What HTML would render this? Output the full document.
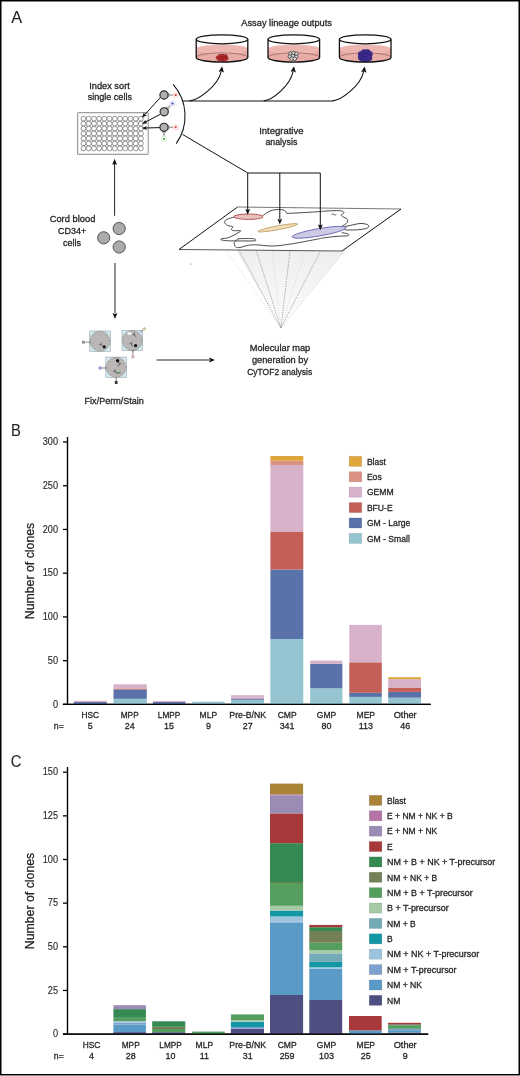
<!DOCTYPE html><html><head><meta charset="utf-8"><title>Figure</title><style>
html,body{margin:0;padding:0;background:#fff;width:520px;height:1076px;overflow:hidden;}
svg{display:block;position:absolute;left:0;top:0;will-change:transform;}
text{font-family:"Liberation Sans", sans-serif;stroke:#231f20;stroke-width:0.3px;}
</style></head><body>
<svg width="520" height="1076" viewBox="0 0 520 1076">
<rect x="0" y="0" width="520" height="1076" fill="#fff"/>
<text transform="translate(11.3 23.1) scale(0.97 1)" font-size="16.8" text-anchor="start" fill="#231f20" style="stroke-width:0.1px">A</text>
<text x="241.3" y="26.2" font-size="9.8" text-anchor="start" fill="#231f20" textLength="90.6" lengthAdjust="spacingAndGlyphs">Assay lineage outputs</text>
<g>
<path d="M196.2,49 L196.2,57.5 A25.8,4.6 0 0 0 247.8,57.5 L247.8,49 A25.8,4.4 0 0 0 196.2,49 Z" fill="#e8aba6"/>
<ellipse cx="222" cy="49" rx="25.400000000000002" ry="4.1" fill="#ecb5b0" stroke="#f0c4c0" stroke-width="0.6"/>
<path d="M196.2,57.5 A25.8,4.6 0 0 1 247.8,57.5" fill="none" stroke="#5a3030" stroke-width="0.6" opacity="0.75"/>
<circle cx="217.8" cy="57.6" r="1.7" fill="#cf3232" stroke="#6a1212" stroke-width="0.6"/><circle cx="220" cy="56.0" r="1.7" fill="#cf3232" stroke="#6a1212" stroke-width="0.6"/><circle cx="222.8" cy="55.800000000000004" r="1.7" fill="#cf3232" stroke="#6a1212" stroke-width="0.6"/><circle cx="225.5" cy="56.2" r="1.7" fill="#cf3232" stroke="#6a1212" stroke-width="0.6"/><circle cx="226.4" cy="58.2" r="1.7" fill="#cf3232" stroke="#6a1212" stroke-width="0.6"/><circle cx="220.8" cy="58.2" r="1.7" fill="#cf3232" stroke="#6a1212" stroke-width="0.6"/><circle cx="223.8" cy="58.4" r="1.7" fill="#cf3232" stroke="#6a1212" stroke-width="0.6"/><circle cx="219.4" cy="59.6" r="1.7" fill="#cf3232" stroke="#6a1212" stroke-width="0.6"/><circle cx="222.4" cy="60.0" r="1.7" fill="#cf3232" stroke="#6a1212" stroke-width="0.6"/><circle cx="224.8" cy="59.800000000000004" r="1.7" fill="#cf3232" stroke="#6a1212" stroke-width="0.6"/>
<path d="M196.2,39.3 L196.2,57.5 A25.8,4.6 0 0 0 247.8,57.5 L247.8,39.3" fill="none" stroke="#111" stroke-width="1.3"/>
<ellipse cx="222" cy="39.3" rx="25.8" ry="4.5" fill="#fff" stroke="#111" stroke-width="1.3"/>
</g>
<g>
<path d="M268.0,49 L268.0,57.5 A25.8,4.6 0 0 0 319.6,57.5 L319.6,49 A25.8,4.4 0 0 0 268.0,49 Z" fill="#e8aba6"/>
<ellipse cx="293.8" cy="49" rx="25.400000000000002" ry="4.1" fill="#ecb5b0" stroke="#f0c4c0" stroke-width="0.6"/>
<path d="M268.0,57.5 A25.8,4.6 0 0 1 319.6,57.5" fill="none" stroke="#5a3030" stroke-width="0.6" opacity="0.75"/>
<circle cx="290.5" cy="53.6" r="1.8" fill="#dedede" stroke="#333" stroke-width="0.75"/><circle cx="293.5" cy="53.0" r="1.8" fill="#dedede" stroke="#333" stroke-width="0.75"/><circle cx="296.5" cy="53.800000000000004" r="1.8" fill="#dedede" stroke="#333" stroke-width="0.75"/><circle cx="289.9" cy="56.6" r="1.8" fill="#dedede" stroke="#333" stroke-width="0.75"/><circle cx="292.9" cy="56.0" r="1.8" fill="#dedede" stroke="#333" stroke-width="0.75"/><circle cx="296.1" cy="56.800000000000004" r="1.8" fill="#dedede" stroke="#333" stroke-width="0.75"/><circle cx="291.7" cy="58.6" r="1.8" fill="#dedede" stroke="#333" stroke-width="0.75"/><circle cx="294.7" cy="58.800000000000004" r="1.8" fill="#dedede" stroke="#333" stroke-width="0.75"/>
<path d="M268.0,39.3 L268.0,57.5 A25.8,4.6 0 0 0 319.6,57.5 L319.6,39.3" fill="none" stroke="#111" stroke-width="1.3"/>
<ellipse cx="293.8" cy="39.3" rx="25.8" ry="4.5" fill="#fff" stroke="#111" stroke-width="1.3"/>
</g>
<g>
<path d="M339.4,49 L339.4,57.5 A25.8,4.6 0 0 0 391.0,57.5 L391.0,49 A25.8,4.4 0 0 0 339.4,49 Z" fill="#e8aba6"/>
<ellipse cx="365.2" cy="49" rx="25.400000000000002" ry="4.1" fill="#ecb5b0" stroke="#f0c4c0" stroke-width="0.6"/>
<path d="M339.4,57.5 A25.8,4.6 0 0 1 391.0,57.5" fill="none" stroke="#5a3030" stroke-width="0.6" opacity="0.75"/>
<circle cx="361" cy="54.2" r="2.8" fill="#3d2c8e" stroke="#2d1d78" stroke-width="0.6"/><circle cx="364" cy="52.4" r="2.8" fill="#3d2c8e" stroke="#2d1d78" stroke-width="0.6"/><circle cx="367.4" cy="52.2" r="2.8" fill="#3d2c8e" stroke="#2d1d78" stroke-width="0.6"/><circle cx="369.6" cy="54.0" r="2.8" fill="#3d2c8e" stroke="#2d1d78" stroke-width="0.6"/><circle cx="361" cy="57.6" r="2.8" fill="#3d2c8e" stroke="#2d1d78" stroke-width="0.6"/><circle cx="364.4" cy="55.800000000000004" r="2.8" fill="#3d2c8e" stroke="#2d1d78" stroke-width="0.6"/><circle cx="367.6" cy="56.2" r="2.8" fill="#3d2c8e" stroke="#2d1d78" stroke-width="0.6"/><circle cx="363.4" cy="59.0" r="2.8" fill="#3d2c8e" stroke="#2d1d78" stroke-width="0.6"/><circle cx="366.4" cy="59.2" r="2.8" fill="#3d2c8e" stroke="#2d1d78" stroke-width="0.6"/><circle cx="369.2" cy="58.0" r="2.8" fill="#3d2c8e" stroke="#2d1d78" stroke-width="0.6"/>
<path d="M339.4,39.3 L339.4,57.5 A25.8,4.6 0 0 0 391.0,57.5 L391.0,39.3" fill="none" stroke="#111" stroke-width="1.3"/>
<ellipse cx="365.2" cy="39.3" rx="25.8" ry="4.5" fill="#fff" stroke="#111" stroke-width="1.3"/>
</g>
<path d="M183,101 L333,101" fill="none" stroke="#111" stroke-width="1.0"/>
<g fill="none" stroke="#111" stroke-width="1.1">
<path d="M189.5,100.9 C198.0,100.4 218.1,86 221.2,71.5"/>
<path d="M263.7,100.9 C272.2,100.4 290.0,86 293.1,71.5"/>
<path d="M332.5,100.9 C341.0,100.4 360.6,86 363.70000000000005,71.5"/>
</g>
<path d="M222.10,66.30 L223.97,72.42 L221.42,71.15 L218.62,71.67 Z" fill="#111"/>
<path d="M294.00,66.30 L295.87,72.42 L293.32,71.15 L290.52,71.67 Z" fill="#111"/>
<path d="M364.60,66.60 L366.47,72.72 L363.92,71.45 L361.12,71.97 Z" fill="#111"/>
<text x="89.2" y="88.6" font-size="9.7" text-anchor="start" fill="#231f20" textLength="40.6" lengthAdjust="spacingAndGlyphs">Index sort</text>
<text x="87.8" y="100.4" font-size="9.7" text-anchor="start" fill="#231f20" textLength="44.1" lengthAdjust="spacingAndGlyphs">single cells</text>
<rect x="77.5" y="112.6" width="70.8" height="41.8" rx="1" fill="#fff" stroke="#a0a0a0" stroke-width="1.1"/>
<rect x="78.7" y="113.7" width="68.4" height="39.6" fill="none" stroke="#e2e2e2" stroke-width="0.8"/>
<g fill="#fff" stroke="#505050" stroke-width="0.6"><circle cx="83.50" cy="118.70" r="2.45"/><circle cx="88.72" cy="118.70" r="2.45"/><circle cx="93.94" cy="118.70" r="2.45"/><circle cx="99.16" cy="118.70" r="2.45"/><circle cx="104.38" cy="118.70" r="2.45"/><circle cx="109.60" cy="118.70" r="2.45"/><circle cx="114.82" cy="118.70" r="2.45"/><circle cx="120.04" cy="118.70" r="2.45"/><circle cx="125.26" cy="118.70" r="2.45"/><circle cx="130.48" cy="118.70" r="2.45"/><circle cx="135.70" cy="118.70" r="2.45"/><circle cx="140.92" cy="118.70" r="2.45"/><circle cx="83.50" cy="123.65" r="2.45"/><circle cx="88.72" cy="123.65" r="2.45"/><circle cx="93.94" cy="123.65" r="2.45"/><circle cx="99.16" cy="123.65" r="2.45"/><circle cx="104.38" cy="123.65" r="2.45"/><circle cx="109.60" cy="123.65" r="2.45"/><circle cx="114.82" cy="123.65" r="2.45"/><circle cx="120.04" cy="123.65" r="2.45"/><circle cx="125.26" cy="123.65" r="2.45"/><circle cx="130.48" cy="123.65" r="2.45"/><circle cx="135.70" cy="123.65" r="2.45"/><circle cx="140.92" cy="123.65" r="2.45"/><circle cx="83.50" cy="128.60" r="2.45"/><circle cx="88.72" cy="128.60" r="2.45"/><circle cx="93.94" cy="128.60" r="2.45"/><circle cx="99.16" cy="128.60" r="2.45"/><circle cx="104.38" cy="128.60" r="2.45"/><circle cx="109.60" cy="128.60" r="2.45"/><circle cx="114.82" cy="128.60" r="2.45"/><circle cx="120.04" cy="128.60" r="2.45"/><circle cx="125.26" cy="128.60" r="2.45"/><circle cx="130.48" cy="128.60" r="2.45"/><circle cx="135.70" cy="128.60" r="2.45"/><circle cx="140.92" cy="128.60" r="2.45"/><circle cx="83.50" cy="133.55" r="2.45"/><circle cx="88.72" cy="133.55" r="2.45"/><circle cx="93.94" cy="133.55" r="2.45"/><circle cx="99.16" cy="133.55" r="2.45"/><circle cx="104.38" cy="133.55" r="2.45"/><circle cx="109.60" cy="133.55" r="2.45"/><circle cx="114.82" cy="133.55" r="2.45"/><circle cx="120.04" cy="133.55" r="2.45"/><circle cx="125.26" cy="133.55" r="2.45"/><circle cx="130.48" cy="133.55" r="2.45"/><circle cx="135.70" cy="133.55" r="2.45"/><circle cx="140.92" cy="133.55" r="2.45"/><circle cx="83.50" cy="138.50" r="2.45"/><circle cx="88.72" cy="138.50" r="2.45"/><circle cx="93.94" cy="138.50" r="2.45"/><circle cx="99.16" cy="138.50" r="2.45"/><circle cx="104.38" cy="138.50" r="2.45"/><circle cx="109.60" cy="138.50" r="2.45"/><circle cx="114.82" cy="138.50" r="2.45"/><circle cx="120.04" cy="138.50" r="2.45"/><circle cx="125.26" cy="138.50" r="2.45"/><circle cx="130.48" cy="138.50" r="2.45"/><circle cx="135.70" cy="138.50" r="2.45"/><circle cx="140.92" cy="138.50" r="2.45"/><circle cx="83.50" cy="143.45" r="2.45"/><circle cx="88.72" cy="143.45" r="2.45"/><circle cx="93.94" cy="143.45" r="2.45"/><circle cx="99.16" cy="143.45" r="2.45"/><circle cx="104.38" cy="143.45" r="2.45"/><circle cx="109.60" cy="143.45" r="2.45"/><circle cx="114.82" cy="143.45" r="2.45"/><circle cx="120.04" cy="143.45" r="2.45"/><circle cx="125.26" cy="143.45" r="2.45"/><circle cx="130.48" cy="143.45" r="2.45"/><circle cx="135.70" cy="143.45" r="2.45"/><circle cx="140.92" cy="143.45" r="2.45"/><circle cx="83.50" cy="148.40" r="2.45"/><circle cx="88.72" cy="148.40" r="2.45"/><circle cx="93.94" cy="148.40" r="2.45"/><circle cx="99.16" cy="148.40" r="2.45"/><circle cx="104.38" cy="148.40" r="2.45"/><circle cx="109.60" cy="148.40" r="2.45"/><circle cx="114.82" cy="148.40" r="2.45"/><circle cx="120.04" cy="148.40" r="2.45"/><circle cx="125.26" cy="148.40" r="2.45"/><circle cx="130.48" cy="148.40" r="2.45"/><circle cx="135.70" cy="148.40" r="2.45"/><circle cx="140.92" cy="148.40" r="2.45"/></g>
<path d="M173.1,84.4 A47.7,47.7 0 0 1 176.2,143.6" fill="none" stroke="#111" stroke-width="1.05"/>
<g fill="none" stroke="#111" stroke-width="1.0">
<path d="M160.6,97.2 L145.2,114.2"/>
<path d="M160.4,114.2 L145.8,121.9"/>
<path d="M160.2,127.6 L146,128.0"/>
</g>
<path d="M141.90,117.70 L143.93,112.53 L144.78,114.50 L146.83,115.14 Z" fill="#111"/>
<path d="M142.00,123.90 L145.68,119.74 L145.80,121.88 L147.51,123.18 Z" fill="#111"/>
<path d="M141.60,128.10 L146.80,126.15 L145.90,128.10 L146.80,130.05 Z" fill="#111"/>
<path d="M168.00,97.20 L170.80,95.00 L168.00,92.80" fill="#bdbdbd" stroke="#a0a0a0" stroke-width="0.7" stroke-linejoin="round"/>
<path d="M170.80,95.00 L173.10,95.00" stroke="#9a9a9a" stroke-width="1.3" fill="none"/>
<circle cx="175.70" cy="95.00" r="2.7" fill="#fff3f3" stroke="#f2b4b4" stroke-width="0.45"/><circle cx="175.70" cy="95.00" r="1.05" fill="#e0302a"/>
<path d="M168.58,110.53 L169.01,106.99 L165.47,107.42" fill="#bdbdbd" stroke="#a0a0a0" stroke-width="0.7" stroke-linejoin="round"/>
<path d="M169.01,106.99 L170.63,105.37" stroke="#9a9a9a" stroke-width="1.3" fill="none"/>
<circle cx="172.47" cy="103.53" r="2.7" fill="#f3f3ff" stroke="#bdbdf0" stroke-width="0.45"/><circle cx="172.47" cy="103.53" r="1.05" fill="#2a2aa8"/>
<path d="M168.00,129.50 L170.80,127.30 L168.00,125.10" fill="#bdbdbd" stroke="#a0a0a0" stroke-width="0.7" stroke-linejoin="round"/>
<path d="M170.80,127.30 L173.10,127.30" stroke="#9a9a9a" stroke-width="1.3" fill="none"/>
<circle cx="175.70" cy="127.30" r="2.7" fill="#fff3f3" stroke="#f2b4b4" stroke-width="0.45"/><circle cx="175.70" cy="127.30" r="1.05" fill="#e0302a"/>
<path d="M161.80,131.30 L164.00,134.10 L166.20,131.30" fill="#bdbdbd" stroke="#a0a0a0" stroke-width="0.7" stroke-linejoin="round"/>
<path d="M164.00,134.10 L164.00,136.40" stroke="#9a9a9a" stroke-width="1.3" fill="none"/>
<circle cx="164.00" cy="139.00" r="2.7" fill="#f3fbf3" stroke="#c0e4c0" stroke-width="0.45"/><circle cx="164.00" cy="139.00" r="1.05" fill="#3aa040"/>
<circle cx="164" cy="95" r="4.1" fill="#b1afaf" stroke="#222" stroke-width="1.1"/>
<circle cx="164.2" cy="111.8" r="4.1" fill="#b1afaf" stroke="#222" stroke-width="1.1"/>
<circle cx="164" cy="127.3" r="4.1" fill="#b1afaf" stroke="#222" stroke-width="1.1"/>
<text x="259.2" y="133.8" font-size="9.7" text-anchor="start" fill="#231f20" textLength="44.3" lengthAdjust="spacingAndGlyphs">Integrative</text>
<text x="265.4" y="145.2" font-size="9.7" text-anchor="start" fill="#231f20" textLength="31.9" lengthAdjust="spacingAndGlyphs">analysis</text>
<defs><linearGradient id="cone" x1="0" y1="0" x2="0" y2="1"><stop offset="0" stop-color="#eeeeee"/><stop offset="0.7" stop-color="#f8f8f8"/><stop offset="1" stop-color="#ffffff"/></linearGradient></defs>
<path d="M236,250 L346,250 L281,328 Z" fill="url(#cone)"/>
<g stroke="#c4c4c4" stroke-width="0.5" stroke-dasharray="1.2,1.2" fill="none">
<path d="M225.9,250 L280.9,328"/>
<path d="M272,250 L280.9,328"/>
<path d="M305.1,250 L280.9,328"/>
<path d="M345.4,250 L280.9,328"/>
</g>
<g stroke="#707070" stroke-width="0.6" stroke-dasharray="1.3,1.1" fill="none">
<path d="M238.8,250 L280.9,328"/>
<path d="M256.1,250 L280.9,328"/>
<path d="M290.1,250 L280.9,328"/>
<path d="M321,250 L280.9,328"/>
</g>
<path d="M189.8,264.2 L191.4,264" stroke="#888" stroke-width="0.8"/>
<path d="M237.5,207 L401,209 L342,251 L179,249.5 Z" fill="#fff" stroke="none"/>
<path d="M237.5,207 L401,209" stroke="#555" stroke-width="0.8" fill="none"/>
<path d="M342,251 L179,249.5" stroke="#444" stroke-width="0.9" fill="none"/>
<path d="M401,209 L342,251 M237.5,207 L179,249.5" stroke="#111" stroke-width="1.0" fill="none"/>
<g fill="none" stroke="#2a2a2a" stroke-width="0.85">
<path d="M262.50,216.00 C263.17,215.50 264.87,213.97 266.50,213.00 C268.13,212.03 269.98,210.77 272.30,210.20 C274.62,209.63 278.25,209.50 280.40,209.60 C282.55,209.70 284.15,210.23 285.20,210.80 C286.25,211.37 285.97,212.58 286.70,213.00 C287.43,213.42 284.88,213.48 289.60,213.30 C294.32,213.12 308.89,212.28 315.00,211.90 C321.11,211.52 322.29,211.22 326.25,211.00 C330.21,210.78 335.94,210.52 338.75,210.60 C341.56,210.68 342.27,211.08 343.10,211.50 C343.93,211.92 344.06,212.52 343.75,213.10 C343.44,213.68 341.36,214.37 341.25,215.00 C341.14,215.63 342.16,216.28 343.10,216.90 C344.04,217.53 346.17,217.92 346.90,218.75 C347.63,219.58 347.82,220.96 347.50,221.90 C347.18,222.84 345.93,223.72 345.00,224.40 C344.07,225.08 342.42,225.73 341.90,226.00"/>
<path d="M343.00,227.00 C344.17,226.75 347.17,226.08 350.00,225.50 C352.83,224.92 357.18,223.68 360.00,223.50 C362.82,223.32 365.44,223.94 366.90,224.40 C368.36,224.86 368.86,225.57 368.75,226.25 C368.64,226.93 368.12,227.92 366.25,228.50 C364.38,229.08 360.62,229.50 357.50,229.75 C354.38,230.00 349.75,230.04 347.50,230.00 C345.25,229.96 344.58,229.58 344.00,229.50"/>
<path d="M341.90,232.60 C342.83,232.79 346.36,233.31 347.50,233.75 C348.64,234.19 348.96,234.89 348.75,235.25 C348.54,235.61 348.54,235.69 346.25,235.90 C343.96,236.11 338.96,236.13 335.00,236.50 C331.04,236.87 325.83,237.58 322.50,238.10 C319.17,238.62 320.48,238.58 315.00,239.60 C309.52,240.62 296.72,243.13 289.60,244.20 C282.48,245.27 278.00,245.90 272.30,246.00 C266.60,246.10 259.67,244.87 255.40,244.80 C251.13,244.73 249.27,245.15 246.70,245.60 C244.13,246.05 241.83,247.27 240.00,247.50 C238.17,247.73 236.67,247.72 235.70,247.00 C234.73,246.28 234.20,244.23 234.20,243.20 C234.20,242.17 234.90,241.53 235.70,240.80 C236.50,240.07 236.03,239.15 239.00,238.80 C241.97,238.45 250.77,238.48 253.50,238.70 C256.23,238.92 255.48,239.73 255.40,240.10 C255.32,240.47 257.33,240.78 253.00,240.90 C248.67,241.02 234.68,240.97 229.40,240.80 C224.12,240.63 222.53,240.25 221.30,239.90 C220.07,239.55 220.97,239.03 222.00,238.70 C223.03,238.37 225.47,238.52 227.50,237.90 C229.53,237.28 232.03,236.12 234.20,235.00 C236.37,233.88 239.70,231.93 240.50,231.20 C241.30,230.47 240.05,230.68 239.00,230.60 C237.95,230.52 235.48,230.93 234.20,230.70 C232.92,230.47 231.53,229.85 231.30,229.20 C231.07,228.55 233.43,227.43 232.80,226.80 C232.17,226.17 228.87,226.12 227.50,225.40 C226.13,224.68 224.77,223.47 224.60,222.50 C224.43,221.53 224.85,220.53 226.50,219.60 C228.15,218.67 233.17,217.35 234.50,216.90"/>
</g>
<path d="M331.5,214.6 c0.8,-1 2,-1 2.6,0 c0.5,0.8 1.5,0.8 2,0" fill="none" stroke="#222" stroke-width="0.8"/>
<ellipse cx="248.5" cy="216.7" rx="14.6" ry="2.7" fill="#e9c2c2" stroke="#b24545" stroke-width="0.9"/>
<ellipse cx="277.9" cy="227.8" rx="20.3" ry="1.9" transform="rotate(-10.6 277.9 227.8)" fill="#f1dfba" stroke="#c4a46e" stroke-width="0.9"/>
<ellipse cx="319" cy="232.3" rx="27.3" ry="3.7" transform="rotate(-9.8 319 232.3)" fill="#cccae6" stroke="#6460b2" stroke-width="0.85"/>
<g fill="none" stroke="#111" stroke-width="1.0">
<path d="M182.5,134.4 L247.8,173 L320.3,173"/>
<path d="M247.7,173 L247.7,210"/>
<path d="M279.8,173 L279.8,219"/>
<path d="M320.3,173 L320.3,225"/>
</g>
<path d="M247.70,214.80 L245.30,209.00 L247.70,209.90 L250.10,209.00 Z" fill="#111"/>
<path d="M279.80,224.60 L277.40,218.80 L279.80,219.70 L282.20,218.80 Z" fill="#111"/>
<path d="M320.30,230.20 L317.90,224.40 L320.30,225.30 L322.70,224.40 Z" fill="#111"/>
<text x="72.5" y="222" font-size="9.7" text-anchor="middle" fill="#231f20" textLength="45.7" lengthAdjust="spacingAndGlyphs">Cord blood</text>
<text x="72.2" y="234.3" font-size="9.7" text-anchor="middle" fill="#231f20" textLength="28.2" lengthAdjust="spacingAndGlyphs">CD34+</text>
<text x="72" y="245.8" font-size="9.7" text-anchor="middle" fill="#231f20" textLength="18" lengthAdjust="spacingAndGlyphs">cells</text>
<circle cx="119.2" cy="228.5" r="6.1" fill="#acaaaa" stroke="#444" stroke-width="0.9"/>
<circle cx="103.7" cy="237.8" r="6.1" fill="#acaaaa" stroke="#444" stroke-width="0.9"/>
<circle cx="119.2" cy="247" r="6.1" fill="#acaaaa" stroke="#444" stroke-width="0.9"/>
<path d="M114.6,215.8 L114.6,164" stroke="#222" stroke-width="1.0"/>
<path d="M114.60,158.80 L117.00,164.80 L114.60,163.90 L112.20,164.80 Z" fill="#111"/>
<path d="M115,263 L115,313" stroke="#222" stroke-width="1.0"/>
<path d="M115.00,319.00 L112.60,313.00 L115.00,313.90 L117.40,313.00 Z" fill="#111"/>
<rect x="89.7" y="331" width="20.6" height="20.3" fill="#d3e9ef" stroke="#9aa4a8" stroke-width="0.6"/>
<circle cx="100.0" cy="341.15" r="9.9" fill="#b9b6b5" stroke="#5e5c5c" stroke-width="0.6" stroke-dasharray="0.9,0.7"/>
<rect x="122" y="330.4" width="20.6" height="20.3" fill="#d3e9ef" stroke="#9aa4a8" stroke-width="0.6"/>
<circle cx="132.3" cy="340.54999999999995" r="9.9" fill="#b9b6b5" stroke="#5e5c5c" stroke-width="0.6" stroke-dasharray="0.9,0.7"/>
<rect x="105.8" y="357.1" width="20.6" height="20.3" fill="#d3e9ef" stroke="#9aa4a8" stroke-width="0.6"/>
<circle cx="116.1" cy="367.25" r="9.9" fill="#b9b6b5" stroke="#5e5c5c" stroke-width="0.6" stroke-dasharray="0.9,0.7"/>
<path d="M85.70,342.20 L89.20,342.20 M90.62,343.31 L89.20,342.20 L90.62,341.09" fill="none" stroke="#8a8a8a" stroke-width="1.0" stroke-linecap="round" stroke-linejoin="round"/>
<rect x="82" y="340.8" width="2.8" height="2.8" fill="#8c8c8c"/>
<path d="M103.34,346.64 L101.50,344.80 M101.26,342.81 L101.50,344.80 L99.51,344.56" fill="none" stroke="#555" stroke-width="0.8" stroke-linecap="round" stroke-linejoin="round"/>
<circle cx="104.2" cy="346.8" r="1.6" fill="#111"/>
<ellipse cx="129.5" cy="333.6" rx="2.2" ry="1.3" fill="#fff"/>
<path d="M136.04,336.84 L134.50,335.00 M134.43,333.00 L134.50,335.00 L132.54,334.58" fill="none" stroke="#555" stroke-width="0.8" stroke-linecap="round" stroke-linejoin="round"/>
<path d="M132.80,346.45 L131.50,344.20 M131.78,342.22 L131.50,344.20 L129.65,343.45" fill="none" stroke="#555" stroke-width="0.8" stroke-linecap="round" stroke-linejoin="round"/>
<circle cx="135.6" cy="345.6" r="1.6" fill="#111"/>
<path d="M140.5,332.4 L143.6,329.2" stroke="#777" stroke-width="1.0"/>
<rect x="143" y="327.3" width="2.8" height="2.8" fill="#d2bfa0" transform="rotate(45 144.4 328.7)"/>
<path d="M132.9,349.8 L132.9,355.4" stroke="#888" stroke-width="1.0"/>
<path d="M132.90,351.40 L132.90,351.30 M133.89,350.04 L132.90,351.30 L131.91,350.04" fill="none" stroke="#888" stroke-width="0.8" stroke-linecap="round" stroke-linejoin="round"/>
<rect x="131.5" y="355.4" width="2.9" height="2.9" fill="#cfa9a9"/>
<circle cx="117.6" cy="360.8" r="1.7" fill="#111"/>
<path d="M118.10,366.48 L119.30,364.40 M121.15,363.65 L119.30,364.40 L119.02,362.42" fill="none" stroke="#555" stroke-width="0.8" stroke-linecap="round" stroke-linejoin="round"/>
<path d="M116.74,373.44 L115.20,371.60 M115.13,369.60 L115.20,371.60 L113.24,371.18" fill="none" stroke="#555" stroke-width="0.8" stroke-linecap="round" stroke-linejoin="round"/>
<path d="M116.5,372.5 L120.6,372.9" stroke="#4f8a52" stroke-width="1.3"/>
<path d="M106,368 L101.4,368" stroke="#888" stroke-width="1.0"/>
<path d="M106.50,368.00 L106.40,368.00 M105.14,367.01 L106.40,368.00 L105.14,368.99" fill="none" stroke="#888" stroke-width="0.8" stroke-linecap="round" stroke-linejoin="round"/>
<rect x="98.6" y="366.6" width="2.9" height="2.9" fill="#9494cc"/>
<path d="M116.1,377.4 L116.1,381.2" stroke="#777" stroke-width="1.0"/>
<rect x="114.8" y="381" width="2.8" height="3" fill="#3a3a3a"/>
<text x="84.6" y="403.8" font-size="9.7" text-anchor="start" fill="#231f20" textLength="59.2" lengthAdjust="spacingAndGlyphs">Fix/Perm/Stain</text>
<path d="M156.6,360 L209,360" stroke="#222" stroke-width="1.0"/>
<path d="M215.00,360.00 L209.00,362.40 L209.90,360.00 L209.00,357.60 Z" fill="#111"/>
<text x="280" y="351.2" font-size="9.7" text-anchor="middle" fill="#231f20" textLength="60.5" lengthAdjust="spacingAndGlyphs">Molecular map</text>
<text x="280" y="363.2" font-size="9.7" text-anchor="middle" fill="#231f20" textLength="56.2" lengthAdjust="spacingAndGlyphs">generation by</text>
<text x="279.7" y="374.6" font-size="9.7" text-anchor="middle" fill="#231f20" textLength="65" lengthAdjust="spacingAndGlyphs">CyTOF2 analysis</text>
<text transform="translate(11.1 435.8) scale(0.86 1)" font-size="17.2" text-anchor="start" fill="#231f20" style="stroke-width:0.1px">B</text>
<path d="M67.5,437 L67.5,705.1" stroke="#000" stroke-width="1.4"/>
<path d="M62.9,704.4 L430.7,704.4" stroke="#000" stroke-width="1.4"/>
<path d="M63,704.40 L67.5,704.40" stroke="#000" stroke-width="1.3"/>
<text transform="translate(58 707.6) scale(0.92 1)" font-size="10.0" text-anchor="end" fill="#231f20" style="stroke-width:0.12px">0</text>
<path d="M63,660.66 L67.5,660.66" stroke="#000" stroke-width="1.3"/>
<text transform="translate(58 663.86) scale(0.92 1)" font-size="10.0" text-anchor="end" fill="#231f20" style="stroke-width:0.12px">50</text>
<path d="M63,616.92 L67.5,616.92" stroke="#000" stroke-width="1.3"/>
<text transform="translate(58 620.12) scale(0.92 1)" font-size="10.0" text-anchor="end" fill="#231f20" style="stroke-width:0.12px">100</text>
<path d="M63,573.18 L67.5,573.18" stroke="#000" stroke-width="1.3"/>
<text transform="translate(58 576.38) scale(0.92 1)" font-size="10.0" text-anchor="end" fill="#231f20" style="stroke-width:0.12px">150</text>
<path d="M63,529.44 L67.5,529.44" stroke="#000" stroke-width="1.3"/>
<text transform="translate(58 532.64) scale(0.92 1)" font-size="10.0" text-anchor="end" fill="#231f20" style="stroke-width:0.12px">200</text>
<path d="M63,485.70 L67.5,485.70" stroke="#000" stroke-width="1.3"/>
<text transform="translate(58 488.8999999999999) scale(0.92 1)" font-size="10.0" text-anchor="end" fill="#231f20" style="stroke-width:0.12px">250</text>
<path d="M63,441.96 L67.5,441.96" stroke="#000" stroke-width="1.3"/>
<text transform="translate(58 445.15999999999997) scale(0.92 1)" font-size="10.0" text-anchor="end" fill="#231f20" style="stroke-width:0.12px">300</text>
<rect x="73.8" y="701.8" width="33.00" height="2.60" fill="#5a72aa"/>
<rect x="73.8" y="700.8" width="33.00" height="1.00" fill="#e3a9be"/>
<rect x="113.5" y="698.8" width="33.30" height="5.60" fill="#94c5d1"/>
<rect x="113.5" y="689.5" width="33.30" height="9.30" fill="#5a72aa"/>
<rect x="113.5" y="688.5" width="33.30" height="1.00" fill="#c45f58"/>
<rect x="113.5" y="684.3" width="33.30" height="4.20" fill="#d8b1cb"/>
<rect x="153" y="701.8" width="32.50" height="2.60" fill="#5a72aa"/>
<rect x="153" y="700.9" width="32.50" height="0.90" fill="#e3a9be"/>
<rect x="192.3" y="701.7" width="32.30" height="2.70" fill="#94c5d1"/>
<rect x="231.1" y="699.8" width="32.90" height="4.60" fill="#94c5d1"/>
<rect x="231.1" y="698.5" width="32.90" height="1.30" fill="#5a72aa"/>
<rect x="231.1" y="697.8" width="32.90" height="0.70" fill="#d89aae"/>
<rect x="231.1" y="695.2" width="32.90" height="2.60" fill="#d8b1cb"/>
<rect x="270.4" y="639" width="32.90" height="65.40" fill="#94c5d1"/>
<rect x="270.4" y="569.5" width="32.90" height="69.50" fill="#5a72aa"/>
<rect x="270.4" y="531.5" width="32.90" height="38.00" fill="#c45f58"/>
<rect x="270.4" y="465" width="32.90" height="66.50" fill="#d8b1cb"/>
<rect x="270.4" y="460.8" width="32.90" height="4.20" fill="#dc9282"/>
<rect x="270.4" y="456" width="32.90" height="4.80" fill="#dfa63b"/>
<rect x="310.2" y="688.3" width="32.20" height="16.10" fill="#94c5d1"/>
<rect x="310.2" y="663.7" width="32.20" height="24.60" fill="#5a72aa"/>
<rect x="310.2" y="660.6" width="32.20" height="3.10" fill="#d8b1cb"/>
<rect x="349.3" y="696.9" width="32.50" height="7.50" fill="#94c5d1"/>
<rect x="349.3" y="692.8" width="32.50" height="4.10" fill="#5a72aa"/>
<rect x="349.3" y="662.3" width="32.50" height="30.50" fill="#c45f58"/>
<rect x="349.3" y="624.9" width="32.50" height="37.40" fill="#d8b1cb"/>
<rect x="388.2" y="697.7" width="32.80" height="6.70" fill="#94c5d1"/>
<rect x="388.2" y="691.9" width="32.80" height="5.80" fill="#5a72aa"/>
<rect x="388.2" y="687.5" width="32.80" height="4.40" fill="#c45f58"/>
<rect x="388.2" y="679.2" width="32.80" height="8.30" fill="#d8b1cb"/>
<rect x="388.2" y="677.2" width="32.80" height="2.00" fill="#dfa63b"/>
<path d="M62.9,704.4 L430.7,704.4" stroke="#000" stroke-width="1.4"/>
<text transform="translate(90.3 717.8) scale(0.86 1)" font-size="9.7" text-anchor="middle" fill="#231f20">HSC</text>
<text transform="translate(90.3 729.1) scale(0.92 1)" font-size="9.7" text-anchor="middle" fill="#231f20">5</text>
<text transform="translate(129.66 717.8) scale(0.86 1)" font-size="9.7" text-anchor="middle" fill="#231f20">MPP</text>
<text transform="translate(129.66 729.1) scale(0.92 1)" font-size="9.7" text-anchor="middle" fill="#231f20">24</text>
<text transform="translate(169.01999999999998 717.8) scale(0.85 1)" font-size="9.7" text-anchor="middle" fill="#231f20">LMPP</text>
<text transform="translate(169.01999999999998 729.1) scale(0.92 1)" font-size="9.7" text-anchor="middle" fill="#231f20">15</text>
<text transform="translate(208.38 717.8) scale(0.88 1)" font-size="9.7" text-anchor="middle" fill="#231f20">MLP</text>
<text transform="translate(208.38 729.1) scale(0.92 1)" font-size="9.7" text-anchor="middle" fill="#231f20">9</text>
<text transform="translate(247.74 717.8) scale(0.9 1)" font-size="9.7" text-anchor="middle" fill="#231f20">Pre-B/NK</text>
<text transform="translate(247.74 729.1) scale(0.92 1)" font-size="9.7" text-anchor="middle" fill="#231f20">27</text>
<text transform="translate(287.1 717.8) scale(0.88 1)" font-size="9.7" text-anchor="middle" fill="#231f20">CMP</text>
<text transform="translate(287.1 729.1) scale(0.92 1)" font-size="9.7" text-anchor="middle" fill="#231f20">341</text>
<text transform="translate(326.46 717.8) scale(0.88 1)" font-size="9.7" text-anchor="middle" fill="#231f20">GMP</text>
<text transform="translate(326.46 729.1) scale(0.92 1)" font-size="9.7" text-anchor="middle" fill="#231f20">80</text>
<text transform="translate(365.82 717.8) scale(0.88 1)" font-size="9.7" text-anchor="middle" fill="#231f20">MEP</text>
<text transform="translate(365.82 729.1) scale(0.92 1)" font-size="9.7" text-anchor="middle" fill="#231f20">113</text>
<text transform="translate(405.18 717.8) scale(0.95 1)" font-size="9.7" text-anchor="middle" fill="#231f20">Other</text>
<text transform="translate(405.18 729.1) scale(0.92 1)" font-size="9.7" text-anchor="middle" fill="#231f20">46</text>
<text transform="translate(53.8 729.1) scale(0.9 1)" font-size="9.7" text-anchor="start" fill="#231f20">n=</text>
<text transform="translate(34.3,571) rotate(-90) scale(0.9 1)" x="0" y="0" font-size="13.7" text-anchor="middle" fill="#231f20">Number of clones</text>
<rect x="349.15" y="456.30" width="12.6" height="10.1" fill="#dfa63b" stroke="rgba(0,0,0,0.13)" stroke-width="0.7"/>
<text transform="translate(366.9 464.55) scale(0.91 1)" font-size="9.45" text-anchor="start" fill="#231f20">Blast</text>
<rect x="349.15" y="471.71" width="12.6" height="10.1" fill="#dc9282" stroke="rgba(0,0,0,0.13)" stroke-width="0.7"/>
<text transform="translate(366.9 479.96000000000004) scale(0.91 1)" font-size="9.45" text-anchor="start" fill="#231f20">Eos</text>
<rect x="349.15" y="487.12" width="12.6" height="10.1" fill="#d8b1cb" stroke="rgba(0,0,0,0.13)" stroke-width="0.7"/>
<text transform="translate(366.9 495.37) scale(0.91 1)" font-size="9.45" text-anchor="start" fill="#231f20">GEMM</text>
<rect x="349.15" y="502.53" width="12.6" height="10.1" fill="#c45f58" stroke="rgba(0,0,0,0.13)" stroke-width="0.7"/>
<text transform="translate(366.9 510.78000000000003) scale(0.91 1)" font-size="9.45" text-anchor="start" fill="#231f20">BFU-E</text>
<rect x="349.15" y="517.94" width="12.6" height="10.1" fill="#5a72aa" stroke="rgba(0,0,0,0.13)" stroke-width="0.7"/>
<text transform="translate(366.9 526.19) scale(0.91 1)" font-size="9.45" text-anchor="start" fill="#231f20">GM - Large</text>
<rect x="349.15" y="533.35" width="12.6" height="10.1" fill="#94c5d1" stroke="rgba(0,0,0,0.13)" stroke-width="0.7"/>
<text transform="translate(366.9 541.6) scale(0.91 1)" font-size="9.45" text-anchor="start" fill="#231f20">GM - Small</text>
<text transform="translate(10.7 767.3) scale(0.86 1)" font-size="17.2" text-anchor="start" fill="#231f20" style="stroke-width:0.1px">C</text>
<path d="M67.5,767 L67.5,1034.8" stroke="#000" stroke-width="1.4"/>
<path d="M62.9,1034.1 L428.2,1034.1" stroke="#000" stroke-width="1.4"/>
<path d="M63,1034.10 L67.5,1034.10" stroke="#000" stroke-width="1.3"/>
<text transform="translate(58 1037.3) scale(0.92 1)" font-size="10.0" text-anchor="end" fill="#231f20" style="stroke-width:0.12px">0</text>
<path d="M63,990.45 L67.5,990.45" stroke="#000" stroke-width="1.3"/>
<text transform="translate(58 993.65) scale(0.92 1)" font-size="10.0" text-anchor="end" fill="#231f20" style="stroke-width:0.12px">25</text>
<path d="M63,946.80 L67.5,946.80" stroke="#000" stroke-width="1.3"/>
<text transform="translate(58 950.0) scale(0.92 1)" font-size="10.0" text-anchor="end" fill="#231f20" style="stroke-width:0.12px">50</text>
<path d="M63,903.15 L67.5,903.15" stroke="#000" stroke-width="1.3"/>
<text transform="translate(58 906.3499999999999) scale(0.92 1)" font-size="10.0" text-anchor="end" fill="#231f20" style="stroke-width:0.12px">75</text>
<path d="M63,859.50 L67.5,859.50" stroke="#000" stroke-width="1.3"/>
<text transform="translate(58 862.6999999999999) scale(0.92 1)" font-size="10.0" text-anchor="end" fill="#231f20" style="stroke-width:0.12px">100</text>
<path d="M63,815.85 L67.5,815.85" stroke="#000" stroke-width="1.3"/>
<text transform="translate(58 819.05) scale(0.92 1)" font-size="10.0" text-anchor="end" fill="#231f20" style="stroke-width:0.12px">125</text>
<path d="M63,772.20 L67.5,772.20" stroke="#000" stroke-width="1.3"/>
<text transform="translate(58 775.4) scale(0.92 1)" font-size="10.0" text-anchor="end" fill="#231f20" style="stroke-width:0.12px">150</text>
<rect x="113.4" y="1032.1" width="32.50" height="2.00" fill="#4f4e80"/>
<rect x="113.4" y="1024.5" width="32.50" height="7.60" fill="#5a9ac6"/>
<rect x="113.4" y="1022.7" width="32.50" height="1.80" fill="#7da0cf"/>
<rect x="113.4" y="1021.2" width="32.50" height="1.50" fill="#9dc4df"/>
<rect x="113.4" y="1017.8" width="32.50" height="3.40" fill="#559f5e"/>
<rect x="113.4" y="1009.1" width="32.50" height="8.70" fill="#358a53"/>
<rect x="113.4" y="1005.2" width="32.50" height="3.90" fill="#9b8cb6"/>
<rect x="152.2" y="1032.2" width="33.10" height="1.90" fill="#4f4e80"/>
<rect x="152.2" y="1029" width="33.10" height="3.20" fill="#559f5e"/>
<rect x="152.2" y="1026.8" width="33.10" height="2.20" fill="#737f55"/>
<rect x="152.2" y="1021.3" width="33.10" height="5.50" fill="#358a53"/>
<rect x="192.2" y="1031.6" width="32.60" height="2.50" fill="#559f5e"/>
<rect x="230.9" y="1028.6" width="33.10" height="5.50" fill="#4f4e80"/>
<rect x="230.9" y="1027" width="33.10" height="1.60" fill="#7da0cf"/>
<rect x="230.9" y="1021.8" width="33.10" height="5.20" fill="#1397a4"/>
<rect x="230.9" y="1020.3" width="33.10" height="1.50" fill="#a6c9a6"/>
<rect x="230.9" y="1014.4" width="33.10" height="5.90" fill="#559f5e"/>
<rect x="270" y="995" width="33.10" height="39.10" fill="#4f4e80"/>
<rect x="270" y="922.5" width="33.10" height="72.50" fill="#5a9ac6"/>
<rect x="270" y="921.8" width="33.10" height="0.70" fill="#7da0cf"/>
<rect x="270" y="916.5" width="33.10" height="5.30" fill="#9dc4df"/>
<rect x="270" y="910.6" width="33.10" height="5.90" fill="#1397a4"/>
<rect x="270" y="905.8" width="33.10" height="4.80" fill="#a6c9a6"/>
<rect x="270" y="883" width="33.10" height="22.80" fill="#559f5e"/>
<rect x="270" y="882" width="33.10" height="1.00" fill="#737f55"/>
<rect x="270" y="843.2" width="33.10" height="38.80" fill="#358a53"/>
<rect x="270" y="813.4" width="33.10" height="29.80" fill="#a8393a"/>
<rect x="270" y="795.6" width="33.10" height="17.80" fill="#9b8cb6"/>
<rect x="270" y="794.3" width="33.10" height="1.30" fill="#b574a8"/>
<rect x="270" y="783.6" width="33.10" height="10.70" fill="#a98437"/>
<rect x="309.3" y="1000" width="32.90" height="34.10" fill="#4f4e80"/>
<rect x="309.3" y="968.6" width="32.90" height="31.40" fill="#5a9ac6"/>
<rect x="309.3" y="967.2" width="32.90" height="1.40" fill="#9dc4df"/>
<rect x="309.3" y="961.9" width="32.90" height="5.30" fill="#1397a4"/>
<rect x="309.3" y="953.4" width="32.90" height="8.50" fill="#73aab5"/>
<rect x="309.3" y="950" width="32.90" height="3.40" fill="#a6c9a6"/>
<rect x="309.3" y="942.7" width="32.90" height="7.30" fill="#559f5e"/>
<rect x="309.3" y="931" width="32.90" height="11.70" fill="#737f55"/>
<rect x="309.3" y="927.2" width="32.90" height="3.80" fill="#358a53"/>
<rect x="309.3" y="924.9" width="32.90" height="2.30" fill="#a8393a"/>
<rect x="349" y="1030.4" width="32.70" height="3.70" fill="#5a9ac6"/>
<rect x="349" y="1016" width="32.70" height="14.40" fill="#a8393a"/>
<rect x="388" y="1032.5" width="33.00" height="1.60" fill="#4f4e80"/>
<rect x="388" y="1030.2" width="33.00" height="2.30" fill="#5a9ac6"/>
<rect x="388" y="1028.8" width="33.00" height="1.40" fill="#7da0cf"/>
<rect x="388" y="1025.6" width="33.00" height="3.20" fill="#559f5e"/>
<rect x="388" y="1024.5" width="33.00" height="1.10" fill="#358a53"/>
<rect x="388" y="1022.8" width="33.00" height="1.70" fill="#a8393a"/>
<path d="M62.9,1034.1 L428.2,1034.1" stroke="#000" stroke-width="1.4"/>
<text transform="translate(91.5 1047.5) scale(0.86 1)" font-size="9.7" text-anchor="middle" fill="#231f20">HSC</text>
<text transform="translate(91.5 1058.8) scale(0.92 1)" font-size="9.7" text-anchor="middle" fill="#231f20">4</text>
<text transform="translate(130.66 1047.5) scale(0.86 1)" font-size="9.7" text-anchor="middle" fill="#231f20">MPP</text>
<text transform="translate(130.66 1058.8) scale(0.92 1)" font-size="9.7" text-anchor="middle" fill="#231f20">28</text>
<text transform="translate(170.51999999999998 1047.5) scale(0.85 1)" font-size="9.7" text-anchor="middle" fill="#231f20">LMPP</text>
<text transform="translate(170.51999999999998 1058.8) scale(0.92 1)" font-size="9.7" text-anchor="middle" fill="#231f20">10</text>
<text transform="translate(204.38 1047.5) scale(0.88 1)" font-size="9.7" text-anchor="middle" fill="#231f20">MLP</text>
<text transform="translate(204.38 1058.8) scale(0.92 1)" font-size="9.7" text-anchor="middle" fill="#231f20">11</text>
<text transform="translate(247.74 1047.5) scale(0.9 1)" font-size="9.7" text-anchor="middle" fill="#231f20">Pre-B/NK</text>
<text transform="translate(247.74 1058.8) scale(0.92 1)" font-size="9.7" text-anchor="middle" fill="#231f20">31</text>
<text transform="translate(287.1 1047.5) scale(0.88 1)" font-size="9.7" text-anchor="middle" fill="#231f20">CMP</text>
<text transform="translate(287.1 1058.8) scale(0.92 1)" font-size="9.7" text-anchor="middle" fill="#231f20">259</text>
<text transform="translate(326.46 1047.5) scale(0.88 1)" font-size="9.7" text-anchor="middle" fill="#231f20">GMP</text>
<text transform="translate(326.46 1058.8) scale(0.92 1)" font-size="9.7" text-anchor="middle" fill="#231f20">103</text>
<text transform="translate(365.82 1047.5) scale(0.88 1)" font-size="9.7" text-anchor="middle" fill="#231f20">MEP</text>
<text transform="translate(365.82 1058.8) scale(0.92 1)" font-size="9.7" text-anchor="middle" fill="#231f20">25</text>
<text transform="translate(405.18 1047.5) scale(0.95 1)" font-size="9.7" text-anchor="middle" fill="#231f20">Other</text>
<text transform="translate(405.18 1058.8) scale(0.92 1)" font-size="9.7" text-anchor="middle" fill="#231f20">9</text>
<text transform="translate(53.8 1058.8) scale(0.9 1)" font-size="9.7" text-anchor="start" fill="#231f20">n=</text>
<text transform="translate(34.3,901) rotate(-90) scale(0.9 1)" x="0" y="0" font-size="13.7" text-anchor="middle" fill="#231f20">Number of clones</text>
<rect x="369.25" y="795.35" width="12.6" height="10.1" fill="#a98437" stroke="rgba(0,0,0,0.13)" stroke-width="0.7"/>
<text transform="translate(387.0 803.6) scale(0.92 1)" font-size="9.3" text-anchor="start" fill="#231f20">Blast</text>
<rect x="369.25" y="810.73" width="12.6" height="10.1" fill="#b574a8" stroke="rgba(0,0,0,0.13)" stroke-width="0.7"/>
<text transform="translate(387.0 818.98) scale(0.92 1)" font-size="9.3" text-anchor="start" fill="#231f20">E + NM + NK + B</text>
<rect x="369.25" y="826.11" width="12.6" height="10.1" fill="#9b8cb6" stroke="rgba(0,0,0,0.13)" stroke-width="0.7"/>
<text transform="translate(387.0 834.36) scale(0.92 1)" font-size="9.3" text-anchor="start" fill="#231f20">E + NM + NK</text>
<rect x="369.25" y="841.49" width="12.6" height="10.1" fill="#a8393a" stroke="rgba(0,0,0,0.13)" stroke-width="0.7"/>
<text transform="translate(387.0 849.74) scale(0.92 1)" font-size="9.3" text-anchor="start" fill="#231f20">E</text>
<rect x="369.25" y="856.87" width="12.6" height="10.1" fill="#358a53" stroke="rgba(0,0,0,0.13)" stroke-width="0.7"/>
<text transform="translate(387.0 865.12) scale(0.9613999999999999 1)" font-size="9.3" text-anchor="start" fill="#231f20">NM + B + NK + T-precursor</text>
<rect x="369.25" y="872.25" width="12.6" height="10.1" fill="#737f55" stroke="rgba(0,0,0,0.13)" stroke-width="0.7"/>
<text transform="translate(387.0 880.5) scale(0.92 1)" font-size="9.3" text-anchor="start" fill="#231f20">NM + NK + B</text>
<rect x="369.25" y="887.63" width="12.6" height="10.1" fill="#559f5e" stroke="rgba(0,0,0,0.13)" stroke-width="0.7"/>
<text transform="translate(387.0 895.88) scale(0.9613999999999999 1)" font-size="9.3" text-anchor="start" fill="#231f20">NM + B + T-precursor</text>
<rect x="369.25" y="903.01" width="12.6" height="10.1" fill="#a6c9a6" stroke="rgba(0,0,0,0.13)" stroke-width="0.7"/>
<text transform="translate(387.0 911.26) scale(0.9613999999999999 1)" font-size="9.3" text-anchor="start" fill="#231f20">B + T-precursor</text>
<rect x="369.25" y="918.39" width="12.6" height="10.1" fill="#73aab5" stroke="rgba(0,0,0,0.13)" stroke-width="0.7"/>
<text transform="translate(387.0 926.64) scale(0.92 1)" font-size="9.3" text-anchor="start" fill="#231f20">NM + B</text>
<rect x="369.25" y="933.77" width="12.6" height="10.1" fill="#1397a4" stroke="rgba(0,0,0,0.13)" stroke-width="0.7"/>
<text transform="translate(387.0 942.02) scale(0.92 1)" font-size="9.3" text-anchor="start" fill="#231f20">B</text>
<rect x="369.25" y="949.15" width="12.6" height="10.1" fill="#9dc4df" stroke="rgba(0,0,0,0.13)" stroke-width="0.7"/>
<text transform="translate(387.0 957.4000000000001) scale(0.9613999999999999 1)" font-size="9.3" text-anchor="start" fill="#231f20">NM + NK + T-precursor</text>
<rect x="369.25" y="964.53" width="12.6" height="10.1" fill="#7da0cf" stroke="rgba(0,0,0,0.13)" stroke-width="0.7"/>
<text transform="translate(387.0 972.78) scale(0.9613999999999999 1)" font-size="9.3" text-anchor="start" fill="#231f20">NM + T-precursor</text>
<rect x="369.25" y="979.91" width="12.6" height="10.1" fill="#5a9ac6" stroke="rgba(0,0,0,0.13)" stroke-width="0.7"/>
<text transform="translate(387.0 988.1600000000001) scale(0.92 1)" font-size="9.3" text-anchor="start" fill="#231f20">NM + NK</text>
<rect x="369.25" y="995.29" width="12.6" height="10.1" fill="#4f4e80" stroke="rgba(0,0,0,0.13)" stroke-width="0.7"/>
<text transform="translate(387.0 1003.54) scale(0.92 1)" font-size="9.3" text-anchor="start" fill="#231f20">NM</text>
<rect x="0" y="0" width="1.5" height="1076" fill="#000"/>
<rect x="0" y="0" width="520" height="1.5" fill="#000"/>
<rect x="518.5" y="0" width="1.5" height="1076" fill="#000"/>
<rect x="0" y="1074" width="520" height="1" fill="#000"/>
<rect x="0" y="1075" width="520" height="1" fill="#8c8c8c"/>
</svg></body></html>
